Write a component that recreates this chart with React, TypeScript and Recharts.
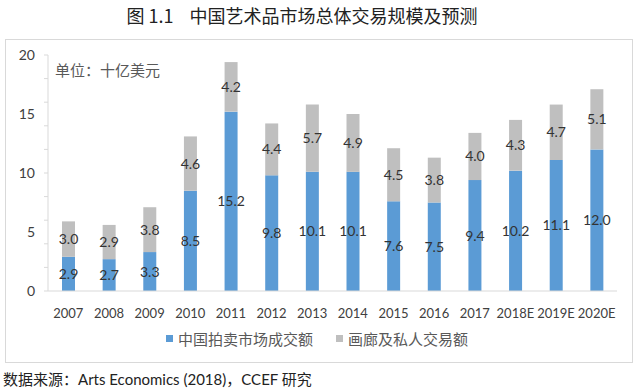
import { Bar, BarChart, LabelList, XAxis, YAxis } from 'recharts';

const years = ['2007', '2008', '2009', '2010', '2011', '2012', '2013', '2014', '2015', '2016', '2017', '2018E', '2019E', '2020E'];
const auctionSales = [2.9, 2.7, 3.3, 8.5, 15.2, 9.8, 10.1, 10.1, 7.6, 7.5, 9.4, 10.2, 11.1, 12.0];
const dealerSales = [3.0, 2.9, 3.8, 4.6, 4.2, 4.4, 5.7, 4.9, 4.5, 3.8, 4.0, 4.3, 4.7, 5.1];
const yTicks = [0, 2, 4, 5, 6, 8, 10, 12, 14, 15, 16, 18, 20];

const seriesNames = ['中国拍卖市场成交额', '画廊及私人交易额'];
const BLUE = '#5B9BD5';
const GRAY = '#BFBFBF';

const numFont = "Lato, 'Noto Sans CJK SC', sans-serif";
const cjkFont = "'Noto Sans CJK SC', sans-serif";

const data = years.map((year, i) => ({
  year,
  auction: auctionSales[i],
  dealer: dealerSales[i],
}));

// major labels every 5, small tick marks every 2
function YTick(props: any) {
  const { x, y, payload } = props;
  const v = payload.value as number;
  return (
    <g>
      {v % 2 === 0 && <line x1={x - 4} x2={x} y1={y} y2={y} stroke="#d9d9d9" />}
      {v % 5 === 0 && (
        <text x={x - 13} y={y} dy={5} textAnchor="end" fill="#404040" fontSize={14} fontFamily={numFont}>
          {v}
        </text>
      )}
    </g>
  );
}

const fmt = (v: any) => Number(v).toFixed(1);

export default function App() {
  return (
    <div style={{ position: 'absolute', left: 0, top: 0, width: 640, height: 390, background: '#fff', overflow: 'hidden' }}>
      <div
        style={{
          position: 'absolute',
          top: 2,
          left: 0,
          width: 604,
          textAlign: 'center',
          fontFamily: cjkFont,
          fontSize: 18,
          color: '#222',
          whiteSpace: 'pre',
        }}
      >
        {'图 1.1    中国艺术品市场总体交易规模及预测'}
      </div>
      <div
        style={{
          position: 'absolute',
          left: 5,
          top: 39,
          width: 626,
          height: 322,
          border: '1px solid #d9d9d9',
        }}
      />
      <div style={{ position: 'absolute', left: 0, top: 0 }}>
        <BarChart width={640} height={390} data={data} margin={{ top: 55, right: 23, left: 8, bottom: 69 }} barSize={13}>
          <XAxis
            dataKey="year"
            height={30}
            axisLine={{ stroke: '#d9d9d9' }}
            tickLine={false}
            tickSize={0}
            tickMargin={18}
            interval={0}
            tick={{ fill: '#404040', fontSize: 13, fontFamily: numFont }}
          />
          <YAxis
            width={40}
            domain={[0, 20]}
            ticks={yTicks}
            interval={0}
            axisLine={{ stroke: '#d9d9d9' }}
            tickLine={false}
            tickSize={0}
            tickMargin={0}
            tick={<YTick />}
          />
          <Bar dataKey="auction" name={seriesNames[0]} stackId="a" fill={BLUE} isAnimationActive={false}>
            <LabelList dataKey="auction" position="center" formatter={fmt} fill="#333" fontSize={14} fontFamily={numFont} />
          </Bar>
          <Bar dataKey="dealer" name={seriesNames[1]} stackId="a" fill={GRAY} isAnimationActive={false}>
            <LabelList dataKey="dealer" position="center" formatter={fmt} fill="#333" fontSize={14} fontFamily={numFont} />
          </Bar>
        </BarChart>
      </div>
      <div
        style={{
          position: 'absolute',
          left: 55,
          top: 59,
          fontFamily: cjkFont,
          fontSize: 15,
          color: '#595959',
        }}
      >
        单位：十亿美元
      </div>
      <div
        style={{
          position: 'absolute',
          left: 166,
          top: 328,
          display: 'flex',
          alignItems: 'center',
          fontFamily: cjkFont,
          fontSize: 15,
          color: '#595959',
        }}
      >
        <span style={{ width: 7, height: 7, background: BLUE, marginRight: 5 }} />
        <span style={{ marginRight: 23 }}>{seriesNames[0]}</span>
        <span style={{ width: 7, height: 7, background: GRAY, marginRight: 5 }} />
        <span>{seriesNames[1]}</span>
      </div>
      <div
        style={{
          position: 'absolute',
          left: 3,
          top: 368,
          fontFamily: cjkFont,
          fontSize: 15,
          color: '#222',
          whiteSpace: 'pre',
        }}
      >
        {'数据来源：'}
        <span style={{ fontFamily: numFont }}>{'Arts Economics (2018)'}</span>
        {'，'}
        <span style={{ fontFamily: numFont }}>{'CCEF '}</span>
        {'研究'}
      </div>
    </div>
  );
}
